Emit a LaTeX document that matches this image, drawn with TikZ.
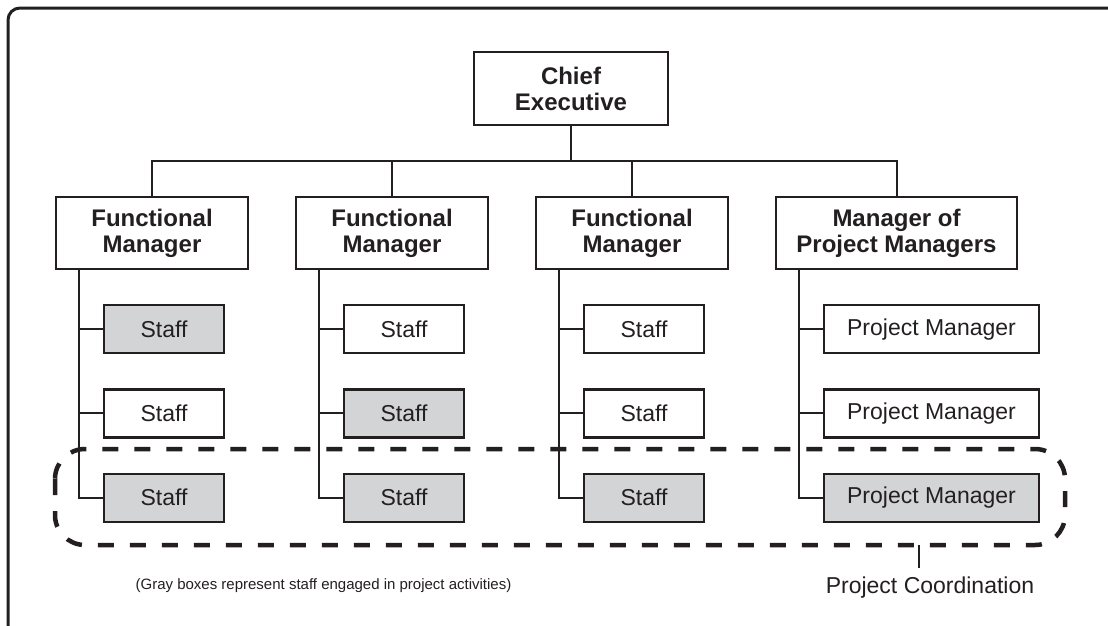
\documentclass[tikz,border=0pt]{standalone}
\usepackage{fontspec}
\setmainfont{Liberation Sans}
\usetikzlibrary{positioning}
\definecolor{inkgray}{HTML}{231F20}
\definecolor{boxgray}{HTML}{D3D4D5}
\tikzset{
  headbox/.style={draw=inkgray, line width=2.2pt, minimum width=192pt, minimum height=72pt, inner sep=0pt, align=center, text=inkgray, font=\bfseries\fontsize{24}{26}\selectfont},
  staffbox/.style={draw=inkgray, line width=2.2pt, minimum width=120pt, minimum height=48pt, inner sep=0pt, text=inkgray, font=\fontsize{23}{26}\selectfont},
  busy/.style={fill=boxgray},
  link/.style={draw=inkgray, line width=2pt}
}
\begin{document}
\begin{tikzpicture}[x=1pt, y=-1pt]
        \clip (0,0) rectangle (1108,625);
        \draw[inkgray, line width=3pt, rounded corners=12pt] (8,8) rectangle (1140,660);
        % top of the chart
        \node[headbox, minimum width=194pt, minimum height=73pt] (ceo) at (571,88.5) {Chief\\Executive};
        \node[headbox] (fm1) at (152,233) {Functional\\Manager};
        \node[headbox] (fm2) at (392,233) {Functional\\Manager};
        \node[headbox] (fm3) at (632,233) {Functional\\Manager};
        \node[headbox, minimum width=241pt] (mpm) at (896.5,233) {Manager of\\Project Managers};
        % staff under each manager
        \node[staffbox, busy, below right=34pt and 48pt of fm1.south west] (s11) {Staff};
        \node[staffbox, below=34pt of s11] (s12) {Staff};
        \node[staffbox, busy, below=34pt of s12] (s13) {Staff};
        \node[staffbox, below right=34pt and 48pt of fm2.south west] (s21) {Staff};
        \node[staffbox, busy, below=34pt of s21] (s22) {Staff};
        \node[staffbox, busy, below=34pt of s22] (s23) {Staff};
        \node[staffbox, below right=34pt and 48pt of fm3.south west] (s31) {Staff};
        \node[staffbox, below=34pt of s31] (s32) {Staff};
        \node[staffbox, busy, below=34pt of s32] (s33) {Staff};
        \node[staffbox, minimum width=215pt, below right=34pt and 48pt of mpm.south west] (pm1) {Project Manager};
        \node[staffbox, minimum width=215pt, below=34pt of pm1] (pm2) {Project Manager};
        \node[staffbox, busy, minimum width=215pt, below=34pt of pm2] (pm3) {Project Manager};
        % lines
        \coordinate (bus) at (571,161);
        \draw[link] (ceo.south) -- (bus);
        \draw[link] (fm1.north) |- (bus) -| (mpm.north);
        \draw[link] (fm2.north) -- (fm2.north |- bus);
        \draw[link] (fm3.north) -- (fm3.north |- bus);
        \coordinate (b1) at ([xshift=24pt]fm1.south west);
        \coordinate (b2) at ([xshift=24pt]fm2.south west);
        \coordinate (b3) at ([xshift=24pt]fm3.south west);
        \coordinate (b4) at ([xshift=24pt]mpm.south west);
        \draw[link] (b1) |- (s13.west) (s11.west) -- (s11.west -| b1) (s12.west) -- (s12.west -| b1);
        \draw[link] (b2) |- (s23.west) (s21.west) -- (s21.west -| b2) (s22.west) -- (s22.west -| b2);
        \draw[link] (b3) |- (s33.west) (s31.west) -- (s31.west -| b3) (s32.west) -- (s32.west -| b3);
        \draw[link] (b4) |- (pm3.west) (pm1.west) -- (pm1.west -| b4) (pm2.west) -- (pm2.west -| b4);
        % project coordination
        \draw[inkgray, line width=4.5pt, dash pattern=on 16pt off 16pt, rounded corners=30pt] (55,449) rectangle (1065,545);
        \coordinate (pc) at (919,545);
        \coordinate (pctip) at (919,568);
        \draw[link] (pc) -- (pctip);
        \node[anchor=north, inner sep=2pt, text=inkgray, font=\fontsize{23}{26}\selectfont] (pcl) at (930,575) {Project Coordination};
        \node[text=inkgray, font=\fontsize{15}{18}\selectfont] (note) at (323.5,586) {(Gray boxes represent staff engaged in project activities)};
\end{tikzpicture}
\end{document}
